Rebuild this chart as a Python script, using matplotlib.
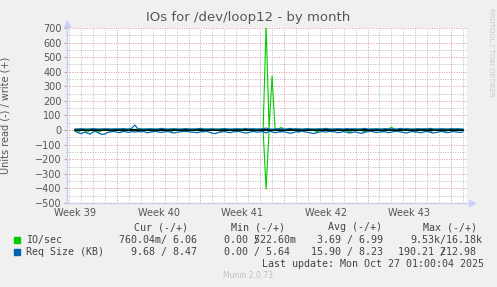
import numpy as np
import matplotlib
matplotlib.use("Agg")
import matplotlib.pyplot as plt
from matplotlib.ticker import MultipleLocator

W, H = 497, 287

# time axis in days, 0 = start of week 40, one sample every 6 hours
t = np.arange(131) * 0.25 - 3.5
week_starts = [0, 7, 14, 21, 28]
week_mids   = [-3.5, 3.5, 10.5, 17.5, 24.5]
week_labels = ["Week 39", "Week 40", "Week 41", "Week 42", "Week 43"]

# IO/sec read (drawn negative) and write
io_read = [2, 12, 3, 1, 15, 2, 1, 3, 14, 2,
           1, 2, 10, 3, 1, 2, 12, 1, 2, 3,
           1, 14, 2, 1, 3, 2, 11, 1, 2, 1,
           3, 2, 15, 1, 2, 1, 3, 12, 2, 1,
           2, 1, 3, 14, 2, 1, 2, 3, 1, 12,
           2, 1, 3, 2, 15, 1, 2, 1, 3, 2,
           12, 1, 2, 3, 405, 2, 1, 3, 2, 14,
           1, 2, 3, 1, 2, 16, 1, 2, 3, 1,
           2, 12, 1, 2, 3, 2, 14, 1, 2, 1,
           3, 2, 15, 1, 2, 1, 3, 12, 2, 1,
           2, 3, 1, 14, 2, 1, 2, 3, 12, 1,
           2, 1, 3, 2, 15, 1, 2, 3, 1, 12,
           2, 1, 3, 2, 14, 1, 2, 3, 1, 2, 1]
io_write = [6, 6, 7, 6, 5, 6, 7, 6, 6, 5,
            6, 7, 6, 6, 5, 6, 7, 6, 6, 6,
            5, 6, 7, 6, 6, 5, 6, 7, 6, 6,
            6, 5, 6, 7, 6, 6, 5, 6, 7, 6,
            6, 6, 5, 6, 7, 6, 6, 5, 6, 7,
            6, 6, 6, 5, 6, 7, 6, 6, 5, 6,
            7, 6, 6, 6, 720, 10, 370, 7, 6, 18,
            6, 5, 6, 7, 6, 6, 5, 6, 7, 6,
            6, 6, 5, 6, 7, 6, 6, 5, 6, 7,
            6, 6, 6, 5, 6, 7, 6, 6, 5, 6,
            7, 6, 6, 6, 5, 6, 20, 6, 6, 5,
            6, 7, 6, 6, 6, 5, 6, 7, 6, 6,
            5, 6, 7, 6, 6, 6, 5, 6, 7, 6, 6]

# request size (KB) read (drawn negative) and write
req_read = [8, 18, 25, 14, 20, 28, 12, 10, 22, 30,
            26, 15, 12, 10, 14, 18, 9, 12, 16, 10,
            14, 8, 12, 10, 18, 15, 11, 9, 13, 16,
            12, 10, 14, 20, 16, 12, 10, 8, 11, 14,
            15, 18, 12, 10, 9, 14, 22, 24, 16, 12,
            10, 14, 18, 12, 8, 10, 15, 20, 18, 12,
            9, 14, 12, 10, 20, 8, 12, 18, 14, 10,
            12, 16, 22, 18, 12, 10, 8, 12, 15, 20,
            24, 18, 12, 10, 14, 10, 8, 12, 18, 15,
            10, 14, 20, 16, 12, 18, 22, 16, 10, 8,
            12, 16, 14, 10, 12, 18, 14, 10, 8, 12,
            16, 20, 14, 10, 12, 15, 18, 12, 10, 14,
            20, 16, 12, 10, 14, 18, 12, 10, 14, 16, 12]
req_write = [7, 8, 9, 8, 7, 8, 10, 8, 7, 8,
             9, 8, 7, 8, 9, 8, 10, 8, 7, 14,
             35, 9, 8, 7, 8, 9, 8, 7, 8, 12,
             8, 7, 8, 9, 8, 7, 8, 10, 8, 7,
             8, 9, 12, 8, 7, 8, 9, 8, 7, 8,
             10, 8, 7, 8, 9, 8, 7, 12, 8, 9,
             8, 7, 8, 9, 14, 8, 7, 8, 9, 8,
             7, 8, 12, 8, 9, 8, 7, 8, 10, 8,
             7, 8, 9, 8, 12, 8, 7, 8, 9, 8,
             7, 10, 8, 9, 8, 7, 8, 12, 8, 7,
             8, 9, 8, 7, 10, 8, 9, 8, 7, 12,
             8, 9, 8, 7, 8, 10, 8, 9, 8, 12,
             8, 7, 8, 9, 8, 7, 10, 8, 9, 8, 7]

fig = plt.figure(figsize=(W / 100, H / 100), dpi=100, facecolor="#f0f0f0")
ax = fig.add_axes([67 / W, 1 - 203 / H, 400 / W, 175 / H])
ax.set_facecolor("white")

green = "#00cc00"
blue = "#0066b3"
ax.plot(t, -np.array(io_read), color=green, lw=0.8, zorder=3)
ax.plot(t, io_write, color=green, lw=0.8, zorder=3)
ax.plot(t, -np.array(req_read), color=blue, lw=0.9, zorder=4)
ax.plot(t, np.zeros_like(t), color="black", lw=1.3, zorder=5)
ax.plot(t, req_write, color=blue, lw=0.8, zorder=6)

ax.set_xlim(-4.19, 29.34)
ax.set_ylim(-500, 700)

# grid
ax.set_xticks(week_starts)
ax.xaxis.set_minor_locator(MultipleLocator(1))
ax.yaxis.set_major_locator(MultipleLocator(100))
ax.yaxis.set_minor_locator(MultipleLocator(50))
ax.grid(which="minor", color="#bdbdbd", ls=(0, (1.5, 1.5)), lw=0.6)
ax.grid(which="major", color="#e39595", ls=(0, (1, 1.5)), lw=0.7)
ax.set_axisbelow(True)
ax.tick_params(axis="x", which="both", length=0, labelbottom=False)
ax.tick_params(axis="y", which="major", length=2, color="#aaaaaa",
               labelsize=7, labelcolor="#555555", pad=2)
ax.tick_params(axis="y", which="minor", length=1, color="#aaaaaa")
for lab, m in zip(week_labels, week_mids):
    ax.text(m, -0.03, lab, transform=ax.get_xaxis_transform(), ha="center",
            va="top", fontsize=7, color="#555555")

for s in ["top", "right"]:
    ax.spines[s].set_visible(False)
for s in ["left", "bottom"]:
    ax.spines[s].set_color("#ccccee")
    ax.spines[s].set_linewidth(1)
ax.plot([0], [1.025], marker="^", ms=5, color="#ccccff", transform=ax.transAxes, clip_on=False)
ax.plot([1.012], [0], marker=">", ms=5, color="#ccccff", transform=ax.transAxes, clip_on=False)

ax.set_ylabel("Units read (-) / write (+)", fontsize=7, color="#555555", labelpad=4)
ax.yaxis.set_label_coords(-57 / 400, 0.5)

def fx(x):
    return x / W

def fy(y):
    return 1 - y / H

fig.text(fx(248), fy(18), "IOs for /dev/loop12 - by month", ha="center", va="center",
         fontsize=9.5, color="#555555")
fig.text(fx(491), fy(52), "RRDTOOL / TOBI OETIKER", rotation=270, ha="center",
         va="center", fontsize=5, color="#c8c8c8")

mono = dict(family="DejaVu Sans Mono", fontsize=7.2, color="#444444", va="center")
fig.text(fx(134), fy(227), "Cur (-/+)", **mono)
fig.text(fx(231), fy(227), "Min (-/+)", **mono)
fig.text(fx(328), fy(227), "Avg (-/+)", **mono)
fig.text(fx(423), fy(227), "Max (-/+)", **mono)

fig.patches.append(plt.Rectangle((fx(14), fy(243)), 6 / W, 6 / H, color=green,
                                 transform=fig.transFigure, figure=fig))
fig.patches.append(plt.Rectangle((fx(14), fy(255)), 6 / W, 6 / H, color=blue,
                                 transform=fig.transFigure, figure=fig))

fig.text(fx(26), fy(240), "IO/sec", **mono)
fig.text(fx(119), fy(240), "760.04m/ 6.06", **mono)
fig.text(fx(224), fy(240), "0.00 /22.60m", **mono)
fig.text(fx(224), fy(240), "     5", **mono)
fig.text(fx(317), fy(240), "3.69 / 6.99", **mono)
fig.text(fx(410), fy(240), "9.53k/16.18k", **mono)

fig.text(fx(26), fy(252), "Req Size (KB)", **mono)
fig.text(fx(131), fy(252), "9.68 / 8.47", **mono)
fig.text(fx(224), fy(252), "0.00 / 5.64", **mono)
fig.text(fx(311), fy(252), "15.90 / 8.23", **mono)
fig.text(fx(398), fy(252), "190.21 /12.98", **mono)
fig.text(fx(398), fy(252), "       2", **mono)

fig.text(fx(262), fy(264), "Last update: Mon Oct 27 01:00:04 2025", **mono)
fig.text(fx(248), fy(276), "Munin 2.0.73", ha="center", va="center", fontsize=5.5,
         color="#c0c0c0")

fig.savefig("out.png", dpi=100, facecolor=fig.get_facecolor())
